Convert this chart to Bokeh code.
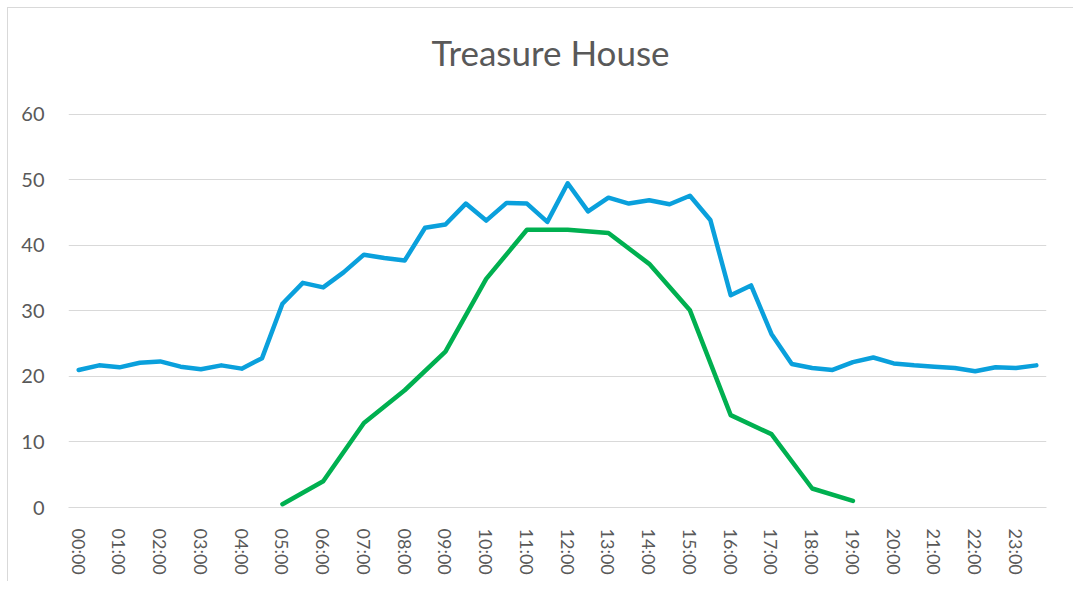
from bokeh.plotting import figure
from bokeh.models import FixedTicker, Range1d, Label
from bokeh.embed import file_html
from bokeh.resources import INLINE

times = [f"{h:02d}:{m:02d}" for h in range(24) for m in (0, 30)]

blue = [21.0, 21.7, 21.4, 22.1, 22.3, 21.5, 21.1, 21.7, 21.2, 22.8,
        31.1, 34.3, 33.6, 35.9, 38.6, 38.1, 37.7, 42.7, 43.2, 46.4,
        43.8, 46.5, 46.4, 43.6, 49.5, 45.2, 47.3, 46.4, 46.9, 46.3,
        47.6, 43.9, 32.4, 33.9, 26.5, 21.9, 21.3, 21.0, 22.2, 22.9,
        22.0, 21.7, 21.5, 21.3, 20.8, 21.4, 21.3, 21.7]

green_times = ["05:00", "06:00", "07:00", "08:00", "09:00", "10:00", "11:00", "12:00",
               "13:00", "14:00", "15:00", "16:00", "17:00", "18:00", "19:00"]
green = [0.5, 4.0, 12.9, 17.9, 23.8, 34.9, 42.4, 42.4, 41.9, 37.2, 30.1, 14.1, 11.2, 2.9, 1.0]

hour_labels = [t for t in times if t.endswith(":00")]
y_ticks = [0, 10, 20, 30, 40, 50, 60]
title_text = "Treasure House"

FONT = "Lato"

# frame extends above the 60 gridline so the title can sit inside it
p = figure(width=1066, height=574, output_backend="svg", toolbar_location=None,
           x_range=Range1d(-0.5, len(times) - 0.5), y_range=Range1d(0, 76.18),
           min_border_left=60, min_border_right=28, min_border_top=0,
           min_border_bottom=75,
           styles={"margin-left": "7px", "margin-top": "7px",
                   "border-left": "1px solid #d9d9d9", "border-top": "1px solid #d9d9d9"})

xi = list(range(len(times)))
p.line(xi, blue, line_color="#0AA0DC", line_width=4.5, line_join="round", line_cap="round")
gx = [times.index(t) for t in green_times]
p.line(gx, green, line_color="#00B050", line_width=4.5, line_join="round", line_cap="round")

p.add_layout(Label(x=23.16, y=69.5, text=title_text, text_align="center",
                   text_baseline="middle", text_font=FONT, text_font_size="35px",
                   text_color="#595959"))

p.outline_line_color = None
p.background_fill_color = "white"
p.border_fill_color = "white"

p.xaxis.ticker = FixedTicker(ticks=[times.index(t) for t in hour_labels])
p.xaxis.major_label_overrides = {times.index(t): t for t in hour_labels}
p.xaxis.major_label_orientation = "vertical"
p.xaxis.major_label_text_font = FONT
p.xaxis.major_label_text_font_size = "18px"
p.xaxis.major_label_text_color = "#595959"
p.xaxis.major_tick_line_color = None
p.xaxis.minor_tick_line_color = None
p.xaxis.axis_line_color = "#d9d9d9"
p.xaxis.major_label_standoff = 15

p.yaxis.ticker = FixedTicker(ticks=y_ticks)
p.yaxis.major_label_text_font = FONT
p.yaxis.major_label_text_font_size = "20px"
p.yaxis.major_label_text_color = "#595959"
p.yaxis.major_tick_line_color = None
p.yaxis.minor_tick_line_color = None
p.yaxis.axis_line_color = None
p.yaxis.major_label_standoff = 18

p.xgrid.grid_line_color = None
p.ygrid.grid_line_color = "#d9d9d9"
p.ygrid.grid_line_width = 1

open("out.html", "w").write(file_html(p, INLINE))
